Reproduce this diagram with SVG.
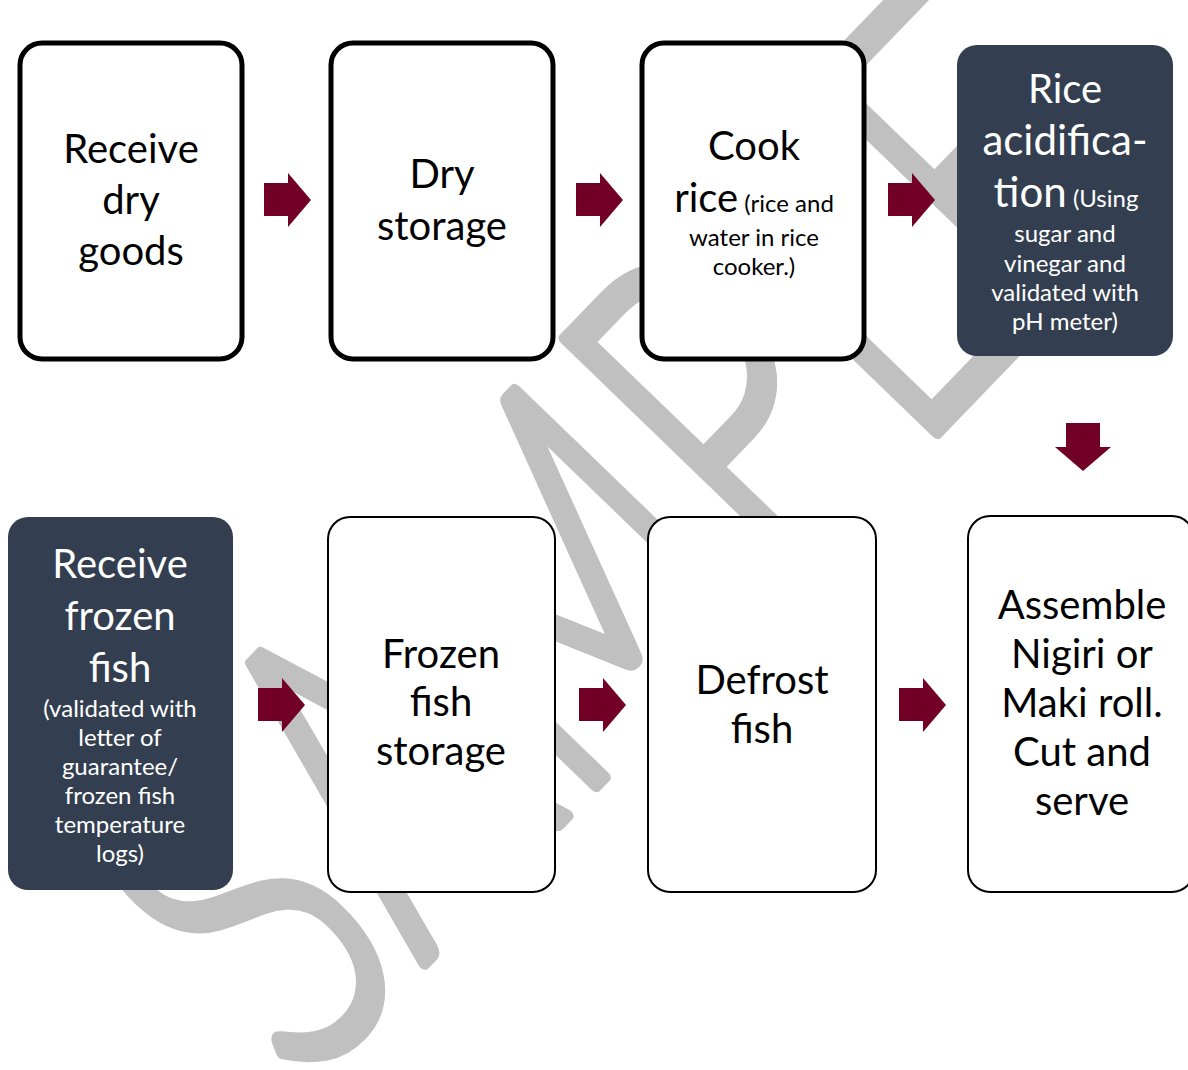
<svg xmlns="http://www.w3.org/2000/svg" width="1188" height="1070" viewBox="0 0 1188 1070">
<style>
.wm{font-family:Lato,"Liberation Sans",sans-serif;font-weight:300;fill:#c0c0c0;stroke:#c0c0c0;stroke-width:13;stroke-linejoin:round;}
.box{fill:#ffffff;stroke:#000000;}
.thick{stroke-width:5;}
.thin{stroke-width:2;}
.dark{fill:#333f50;}
.t{font-family:Lato,"Open Sans",sans-serif;text-anchor:middle;font-size:40px;fill:#000000;}
.w{fill:#ffffff;}
.s{font-size:24px;}
.arr{fill:#720026;}
</style>
<defs>
<polygon id="ra" points="0,10 24,10 24,0 47,27 24,54 24,43 0,43"/>
</defs>
<rect width="1188" height="1070" fill="#ffffff"/>
<g id="watermark">
<text class="wm" font-size="470" transform="translate(300,1092) rotate(-46)" textLength="1240" lengthAdjust="spacingAndGlyphs">SAMPLE</text>
</g>
<g id="connectors">
<use href="#ra" class="arr" x="264" y="173"/>
<use href="#ra" class="arr" x="576" y="173"/>
<use href="#ra" class="arr" x="888" y="173"/>
<polygon class="arr" points="1066,423 1100,423 1100,447 1111,447 1083,471 1055,447 1066,447"/>
<use href="#ra" class="arr" x="258" y="678"/>
<use href="#ra" class="arr" x="579" y="678"/>
<use href="#ra" class="arr" x="899" y="678"/>
</g>
<g id="n1">
<rect class="box thick" x="20" y="43" width="222" height="316" rx="22"/>
<text class="t"><tspan x="131" y="163">Receive</tspan><tspan x="131" y="214">dry</tspan><tspan x="131" y="265">goods</tspan></text>
</g>
<g id="n2">
<rect class="box thick" x="331" y="43" width="222" height="316" rx="22"/>
<text class="t"><tspan x="442" y="188">Dry</tspan><tspan x="442" y="240">storage</tspan></text>
</g>
<g id="n3">
<rect class="box thick" x="642" y="43" width="222" height="316" rx="22"/>
<text class="t"><tspan x="754" y="160">Cook</tspan></text>
<text class="t" x="754" y="212"><tspan>rice</tspan><tspan class="s"> (rice and</tspan></text>
<text class="t s"><tspan x="754" y="246">water in rice</tspan><tspan x="754" y="275">cooker.)</tspan></text>
</g>
<g id="n4">
<rect class="dark" x="957" y="45" width="216" height="311" rx="20"/>
<text class="t w" font-size="41"><tspan x="1065" y="103">Rice</tspan><tspan x="1065" y="155" font-size="42">acidifica-</tspan></text>
<text class="t w" x="1066" y="207"><tspan font-size="42">tion</tspan><tspan class="s"> (Using</tspan></text>
<text class="t w s"><tspan x="1065" y="242">sugar and</tspan><tspan x="1065" y="272">vinegar and</tspan><tspan x="1065" y="301">validated with</tspan><tspan x="1065" y="330">pH meter)</tspan></text>
</g>
<g id="n5">
<rect class="dark" x="8" y="517" width="225" height="373" rx="20"/>
<text class="t w" font-size="41"><tspan x="120" y="578">Receive</tspan><tspan x="120" y="630">frozen</tspan><tspan x="120" y="682">fish</tspan></text>
<text class="t w s"><tspan x="120" y="717">(validated with</tspan><tspan x="120" y="746">letter of</tspan><tspan x="120" y="775">guarantee/</tspan><tspan x="120" y="804">frozen fish</tspan><tspan x="120" y="833">temperature</tspan><tspan x="120" y="862">logs)</tspan></text>
</g>
<g id="n6">
<rect class="box thin" x="328" y="517" width="227" height="375" rx="22"/>
<text class="t"><tspan x="441" y="668">Frozen</tspan><tspan x="441" y="716">fish</tspan><tspan x="441" y="765">storage</tspan></text>
</g>
<g id="n7">
<rect class="box thin" x="648" y="517" width="228" height="375" rx="22"/>
<text class="t"><tspan x="762" y="694">Defrost</tspan><tspan x="762" y="743">fish</tspan></text>
</g>
<g id="n8">
<rect class="box thin" x="968" y="516" width="226" height="376" rx="22"/>
<text class="t"><tspan x="1082" y="619">Assemble</tspan><tspan x="1082" y="668">Nigiri or</tspan><tspan x="1082" y="717">Maki roll.</tspan><tspan x="1082" y="766">Cut and</tspan><tspan x="1082" y="815">serve</tspan></text>
</g>
</svg>
